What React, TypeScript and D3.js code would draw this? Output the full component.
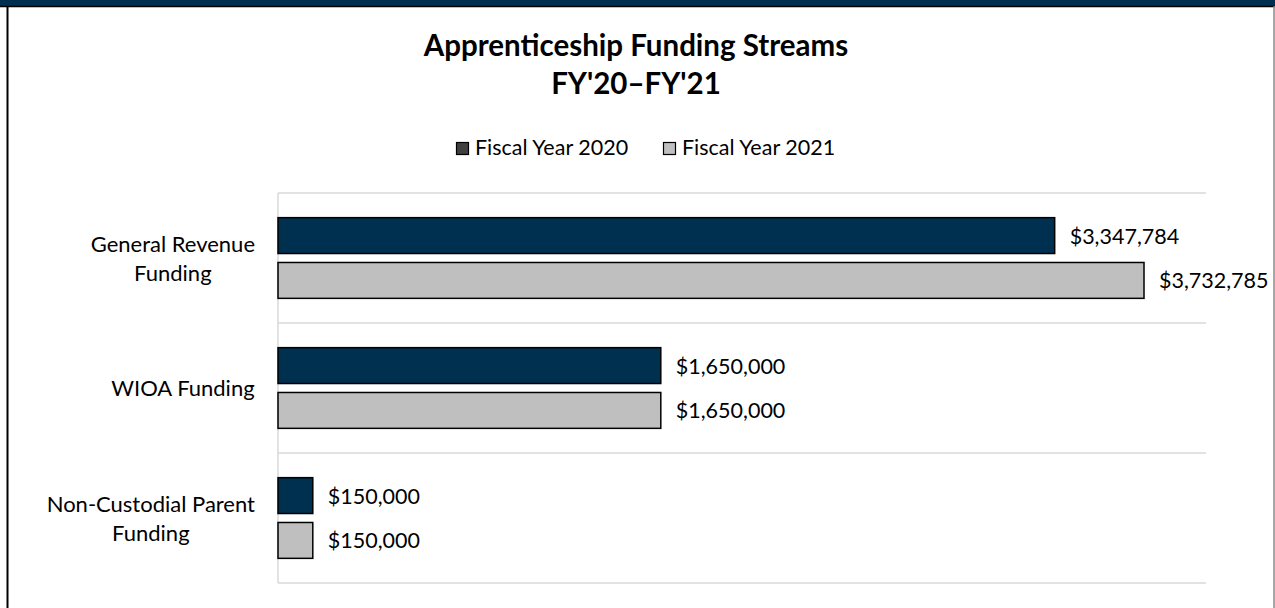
import React from "react";
import * as d3 from "d3";

const categories = [["General Revenue", "Funding"], ["WIOA Funding"], ["Non-Custodial Parent", "Funding"]];
const seriesNames = ["Fiscal Year 2020", "Fiscal Year 2021"];
const fy2020 = [3347784, 1650000, 150000];
const fy2021 = [3732785, 1650000, 150000];
const barColors = ["#003050", "#BFBFBF"];
const legendColors = ["#404040", "#BFBFBF"];

const W = 1275;
const H = 608;
const FONT = "Lato, 'Open Sans', sans-serif";
const CAT_SIZE = 22;
const LBL_SIZE = 21.5;

function measure(text: string, size: number): number {
  if (typeof document === "undefined") return text.length * size * 0.5;
  const c = document.createElement("canvas");
  const ctx = c.getContext("2d");
  if (!ctx) return text.length * size * 0.5;
  ctx.font = `${size}px Lato`;
  return ctx.measureText(text).width;
}

export default function App() {
  const x = d3.scaleLinear().domain([0, 4000000]).range([278, 1206]);
  const y = d3.scaleBand<number>().domain([0, 1, 2]).range([193, 583]);
  const inner = d3.scaleBand<number>().domain([0, 1]).range([0, y.bandwidth()]).paddingInner(0.2).paddingOuter(0.55);
  const series = [fy2020, fy2021];
  const fmt = (v: number) => "$" + d3.format(",")(v);
  const labelRight = 255;

  return (
    <div style={{ position: "absolute", left: 0, top: 0 }}>
      <svg width={W} height={H} style={{ display: "block", background: "#fff" }}>
        <rect x={0} y={0} width={W} height={6} fill="#002E50" />
        <line x1={0} x2={W} y1={6.5} y2={6.5} stroke="#000" strokeWidth={1.5} />
        <line x1={7.5} x2={7.5} y1={6} y2={H} stroke="#000" strokeWidth={2} />
        <line x1={1274} x2={1274} y1={6} y2={H} stroke="#888" strokeWidth={1.5} />

        <text x={636} y={56} textAnchor="middle" fontFamily={FONT} fontWeight={700} fontSize={29.5} fill="#000">
          Apprenticeship Funding Streams
        </text>
        <text x={636} y={94} textAnchor="middle" fontFamily={FONT} fontWeight={700} fontSize={29.5} fill="#000">
          FY'20–FY'21
        </text>

        {seriesNames.map((s, i) => {
          const lx = i === 0 ? 456 : 663;
          return (
            <g key={s}>
              <rect x={lx + 0.5} y={142.5} width={12} height={12} fill={legendColors[i]} stroke="#000" strokeWidth={1.2} />
              <text x={lx + 19} y={155} fontFamily={FONT} fontSize={LBL_SIZE} fill="#000">{s}</text>
            </g>
          );
        })}

        {[0, 1, 2, 3].map((i) => {
          const yy = 193 + i * y.step();
          return <line key={i} x1={278} x2={1206} y1={yy} y2={yy} stroke="#D9D9D9" strokeWidth={1.5} />;
        })}
        <line x1={278} x2={278} y1={193} y2={583} stroke="#D9D9D9" strokeWidth={1.5} />

        {categories.map((lines, ci) => {
          const cy = (y(ci) as number) + y.bandwidth() / 2;
          const lh = 29;
          const y0 = cy - ((lines.length - 1) * lh) / 2 + 8;
          const bw = Math.max(...lines.map((l) => measure(l, CAT_SIZE)));
          const cx = labelRight - bw / 2;
          return (
            <g key={ci}>
              {lines.map((ln, li) => (
                <text key={li} x={cx} y={y0 + li * lh} textAnchor="middle" fontFamily={FONT} fontSize={CAT_SIZE} fill="#000">
                  {ln}
                </text>
              ))}
            </g>
          );
        })}

        {series.map((vals, si) =>
          vals.map((v, ci) => {
            const by = (y(ci) as number) + (inner(si) as number);
            const bh = inner.bandwidth();
            return (
              <g key={`${si}-${ci}`}>
                <rect x={x(0)} y={by} width={x(v) - x(0)} height={bh} fill={barColors[si]} stroke="#000" strokeWidth={1.5} />
                <text x={x(v) + 15} y={by + bh / 2 + 8} fontFamily={FONT} fontSize={LBL_SIZE} fill="#000">
                  {fmt(v)}
                </text>
              </g>
            );
          })
        )}
      </svg>
    </div>
  );
}
